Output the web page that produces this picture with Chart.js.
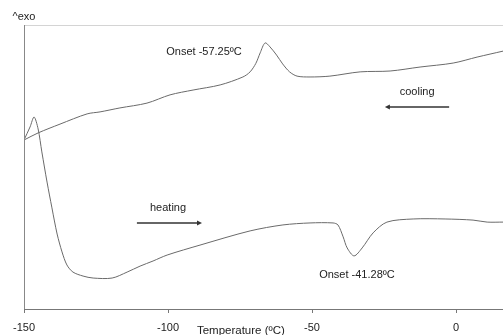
<!DOCTYPE html>
<html>
<head>
<meta charset="utf-8">
<title>DSC</title>
<script src="https://cdn.jsdelivr.net/npm/chart.js@4"></script>
<style>
  html, body { margin: 0; padding: 0; background: #fff; }
  canvas { display: block; }
</style>
</head>
<body>
<canvas id="dsc" width="503" height="335"></canvas>
<script>
// temperature (C) and heat flow (arbitrary, exo up)
const coolingT = [-150, -145.1, -137.5, -128.1, -123.6, -116.7, -107.3, -99.3, -91.3, -81.9, -74.0, -71.5, -69.5, -68.0, -66.3, -64.6, -62.3, -60.2, -57.8, -55.2, -50.7, -43.8, -33.3, -22.9, -12.5, -1.0, 7.3, 16.3];
const coolingV = [59.5, 62.0, 65.1, 68.7, 69.4, 70.8, 72.5, 75.4, 77.1, 78.9, 81.7, 83.5, 86.5, 90.2, 93.7, 92.3, 89.4, 86.3, 83.5, 82.0, 81.7, 82.0, 83.5, 83.8, 85.2, 86.6, 88.7, 90.8];

const heatingT = [-150, -147.9, -146.5, -145.1, -143.8, -142.0, -140.3, -138.5, -136.8, -135.1, -133.0, -129.5, -126.0, -119.4, -114.2, -109.7, -105.2, -100.3, -88.9, -71.5, -60.1, -50.7, -42.7, -41.0, -39.2, -37.8, -35.4, -32.6, -28.8, -24.0, -14.9, -3.8, 5.9, 10.8, 16.3];
const heatingV = [59.5, 64.1, 67.6, 63.4, 55.3, 44.7, 35.6, 26.4, 20.1, 15.5, 13.0, 11.6, 10.9, 10.9, 13.0, 15.1, 16.9, 19.0, 22.5, 27.5, 29.6, 30.3, 30.3, 29.6, 25.4, 21.5, 18.7, 21.5, 26.8, 30.6, 31.7, 31.7, 31.3, 30.6, 30.6];

const tickValues = [-150, -100, -50, 0];

// notes: [text, T, value]
const notes = [
  ["Onset -57.25\u00baC", -87.5, 90.5],
  ["cooling", -13.5, 76.4],
  ["heating", -100, 35.6],
  ["Onset -41.28\u00baC", -34.4, 12.0],
  ["^exo", -150, 102.8]
];
// arrows: [fromT, toT, value]
const arrows = [
  [-2.4, -24.7, 71.1],
  [-110.8, -88.2, 30.3]
];

function toPoints(xs, ys) {
  return xs.map((x, i) => ({ x: x, y: ys[i] }));
}

const FONT = "Liberation Sans, Arial, sans-serif";

const decorations = {
  id: "decorations",
  afterDatasetsDraw(chart) {
    const ctx = chart.ctx;
    const a = chart.chartArea;
    const xs = chart.scales.x;
    const ys = chart.scales.y;
    ctx.save();
    // frame: top (light) and left
    ctx.lineWidth = 1;
    ctx.strokeStyle = "#d4d4d4";
    ctx.beginPath();
    ctx.moveTo(a.left, a.top + 0.5);
    ctx.lineTo(a.right, a.top + 0.5);
    ctx.stroke();
    ctx.strokeStyle = "#888";
    ctx.beginPath();
    ctx.moveTo(a.left + 0.5, a.top);
    ctx.lineTo(a.left + 0.5, a.bottom);
    ctx.stroke();

    // texts
    ctx.fillStyle = "#222";
    ctx.font = "11px " + FONT;
    ctx.textAlign = "center";
    ctx.textBaseline = "middle";
    notes.forEach((n) => {
      ctx.fillText(n[0], xs.getPixelForValue(n[1]), ys.getPixelForValue(n[2]));
    });

    // arrows
    ctx.strokeStyle = "#333";
    ctx.fillStyle = "#333";
    ctx.lineWidth = 1.5;
    arrows.forEach((ar) => {
      const x1 = xs.getPixelForValue(ar[0]);
      const x2 = xs.getPixelForValue(ar[1]);
      const y = ys.getPixelForValue(ar[2]);
      const dir = x2 > x1 ? 1 : -1;
      ctx.beginPath();
      ctx.moveTo(x1, y);
      ctx.lineTo(x2 - dir * 3, y);
      ctx.stroke();
      ctx.beginPath();
      ctx.moveTo(x2, y);
      ctx.lineTo(x2 - dir * 5, y - 2.5);
      ctx.lineTo(x2 - dir * 5, y + 2.5);
      ctx.closePath();
      ctx.fill();
    });

    // axis title, sitting beside the tick labels
    ctx.fillStyle = "#222";
    ctx.font = "11.5px " + FONT;
    ctx.fillText("Temperature (\u00baC)", xs.getPixelForValue(-74.7), a.bottom + 22);
    ctx.restore();
  }
};

const ctx = document.getElementById("dsc").getContext("2d");
new Chart(ctx, {
  type: "scatter",
  data: {
    datasets: [
      {
        label: "cooling",
        data: toPoints(coolingT, coolingV),
        showLine: true,
        borderColor: "#6a6a6a",
        borderWidth: 1,
        pointRadius: 0,
        tension: 0.3,
      },
      {
        label: "heating",
        data: toPoints(heatingT, heatingV),
        showLine: true,
        borderColor: "#6a6a6a",
        borderWidth: 1,
        pointRadius: 0,
        tension: 0.3,
      },
    ],
  },
  options: {
    responsive: false,
    animation: false,
    layout: { padding: { left: 24, top: 25, right: 0, bottom: 0 } },
    plugins: {
      legend: { display: false },
      tooltip: { enabled: false },
    },
    scales: {
      x: {
        type: "linear",
        min: -150,
        max: 16.3,
        afterBuildTicks: (scale) => {
          scale.ticks = tickValues.map((v) => ({ value: v }));
        },
        afterFit: (scale) => {
          scale.height = 26;
        },
        border: { color: "#777", width: 1 },
        grid: {
          drawOnChartArea: false,
          tickLength: 4,
          color: "#777",
        },
        ticks: {
          color: "#222",
          font: { family: FONT, size: 11 },
          padding: 8,
          maxRotation: 0,
        },
      },
      y: {
        display: false,
        min: 0,
        max: 100,
      },
    },
  },
  plugins: [decorations],
});
</script>
</body>
</html>
